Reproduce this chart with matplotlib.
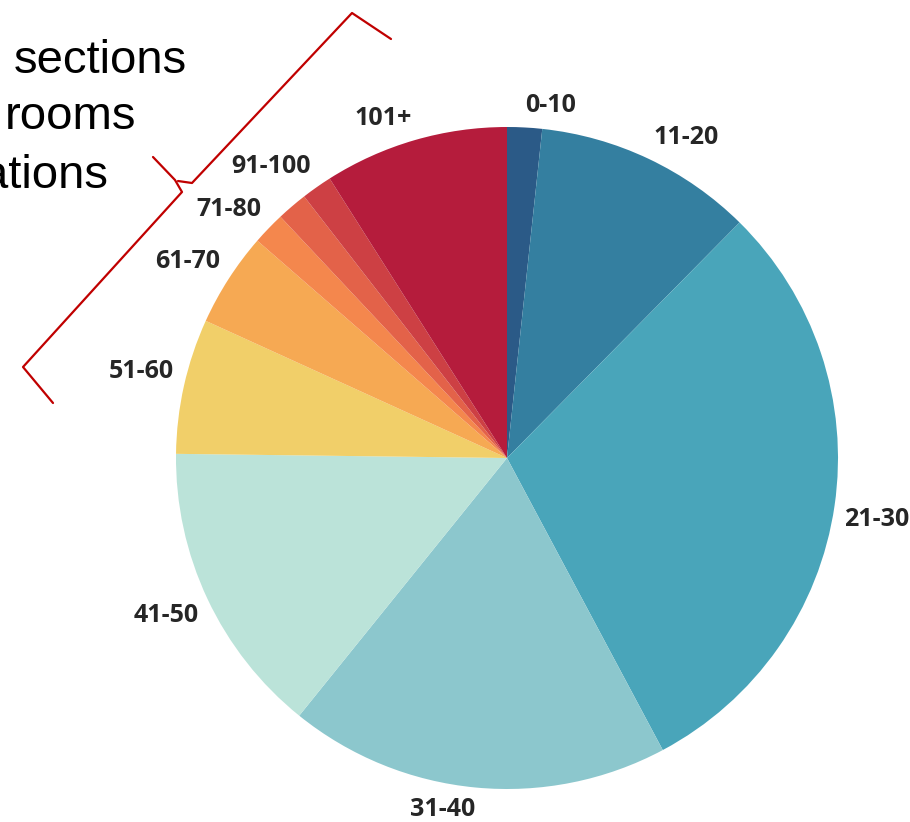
import matplotlib
matplotlib.use("Agg")
import matplotlib.pyplot as plt
from matplotlib.lines import Line2D

# Data
categories = ["0-10", "11-20", "21-30", "31-40", "41-50", "51-60",
              "61-70", "71-80", "81-90", "91-100", "101+"]
values = [1.7, 10.7, 29.8, 18.6, 14.4, 6.6, 4.6, 1.6, 1.5, 1.5, 9.0]
shown_labels = ["0-10", "11-20", "21-30", "31-40", "41-50", "51-60",
                "61-70", "71-80", "", "91-100", "101+"]
colors = ["#2b5a87", "#347fa0", "#49a5ba", "#8cc7cd", "#bbe3d9", "#f1cf69",
          "#f6a953", "#f4874d", "#e36249", "#cd4044", "#b51c3c"]
side_text = ["sections", "rooms", "ations"]

W, H = 910, 822
fig = plt.figure(figsize=(W / 100, H / 100), dpi=100)
fig.patch.set_facecolor("white")

cx, cy, R = 507, 458, 331
ax = fig.add_axes([(cx - R) / W, (H - cy - R) / H, 2 * R / W, 2 * R / H])
wedges, texts = ax.pie(values, labels=shown_labels, colors=colors,
                       startangle=90, counterclock=False, radius=1.0,
                       labeldistance=1.03,
                       wedgeprops=dict(linewidth=0),
                       textprops=dict(family=["Open Sans", "DejaVu Sans"],
                                      fontweight="bold", fontsize=18,
                                      color="#262626"))
for t in texts:
    x, y = t.get_position()
    t.set_va("bottom" if y > 0 else "top")
ax.set_xlim(-1, 1)
ax.set_ylim(-1, 1)
ax.set_aspect("equal")
ax.axis("off")

# Partially cut-off annotation text on the left (as in the source slide)
right_edges = [187, 136, 108]
baselines = [73, 129, 188]
for t, xr, yb in zip(side_text, right_edges, baselines):
    fig.text(xr / W, 1 - yb / H, t, ha="right", va="baseline",
             fontsize=34, family=["Liberation Sans", "DejaVu Sans"],
             color="black")

# Hand-drawn red brace
def px(pts):
    xs = [p[0] / W for p in pts]
    ys = [1 - p[1] / H for p in pts]
    return xs, ys

red = "#c00000"
for pts in ([(391, 39), (352, 13), (192, 183), (178, 181)],
            [(153, 157), (175, 180), (182, 192), (23, 367), (53, 403)]):
    xs, ys = px(pts)
    fig.add_artist(Line2D(xs, ys, color=red, linewidth=1.6,
                          solid_joinstyle="round", solid_capstyle="round"))

fig.savefig("out.png", dpi=100, facecolor="white")
